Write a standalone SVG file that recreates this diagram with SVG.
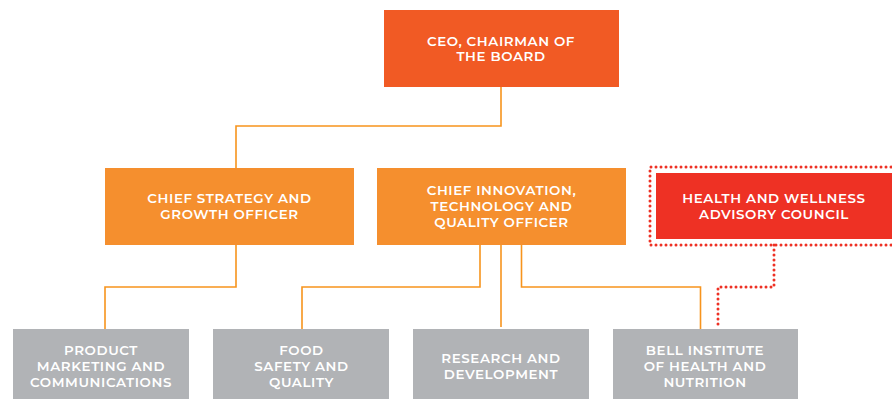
<svg xmlns="http://www.w3.org/2000/svg" width="892" height="399" viewBox="0 0 892 399">
<style>
.t{font-family:"Montserrat","Liberation Sans","DejaVu Sans",sans-serif;font-weight:600;font-size:13.4px;fill:#fff;text-anchor:middle;letter-spacing:0.6px}
.c{fill:none;stroke:#F7941D;stroke-width:1.6}
.d{fill:none;stroke:#EE3124;stroke-width:3;stroke-linecap:round;stroke-dasharray:0 5}
</style>
<rect width="892" height="399" fill="#fff"/>
<g id="connectors">
<path class="c" d="M501 87V126H236V168"/>
<path class="c" d="M236 245V287H105V329"/>
<path class="c" d="M480 245V287H302V329"/>
<path class="c" d="M501 245V327"/>
<path class="c" d="M521.5 245V287H700.5V329"/>
<path class="d" d="M774 245V287H718V327"/>
</g>
<g id="ceo">
<rect x="384" y="10" width="235" height="77" fill="#F15A24"/>
<text class="t" x="501" y="46">CEO, CHAIRMAN OF</text>
<text class="t" x="501" y="61">THE BOARD</text>
</g>
<g id="strategy">
<rect x="105" y="168" width="249" height="77" fill="#F58F2E"/>
<text class="t" x="229.5" y="203">CHIEF STRATEGY AND</text>
<text class="t" x="229.5" y="219">GROWTH OFFICER</text>
</g>
<g id="innovation">
<rect x="377" y="168" width="249" height="77" fill="#F58F2E"/>
<text class="t" x="501.5" y="195">CHIEF INNOVATION,</text>
<text class="t" x="501.5" y="211">TECHNOLOGY AND</text>
<text class="t" x="501.5" y="227">QUALITY OFFICER</text>
</g>
<g id="health">
<path class="d" d="M896 167H650V245H896"/>
<rect x="656" y="173" width="240" height="66" fill="#EE3124"/>
<text class="t" x="774" y="203">HEALTH AND WELLNESS</text>
<text class="t" x="774" y="218.5">ADVISORY COUNCIL</text>
</g>
<g id="product">
<rect x="13" y="329" width="176" height="70" fill="#B1B3B6"/>
<text class="t" x="101" y="355">PRODUCT</text>
<text class="t" x="101" y="371">MARKETING AND</text>
<text class="t" x="101" y="387">COMMUNICATIONS</text>
</g>
<g id="food">
<rect x="213" y="329" width="176" height="70" fill="#B1B3B6"/>
<text class="t" x="301.5" y="355">FOOD</text>
<text class="t" x="301.5" y="371">SAFETY AND</text>
<text class="t" x="301.5" y="387">QUALITY</text>
</g>
<g id="research">
<rect x="413" y="329" width="176" height="70" fill="#B1B3B6"/>
<text class="t" x="501" y="363">RESEARCH AND</text>
<text class="t" x="501" y="379">DEVELOPMENT</text>
</g>
<g id="bell">
<rect x="613" y="329" width="185" height="70" fill="#B1B3B6"/>
<text class="t" x="705" y="355">BELL INSTITUTE</text>
<text class="t" x="705" y="371">OF HEALTH AND</text>
<text class="t" x="705" y="387">NUTRITION</text>
</g>
</svg>
